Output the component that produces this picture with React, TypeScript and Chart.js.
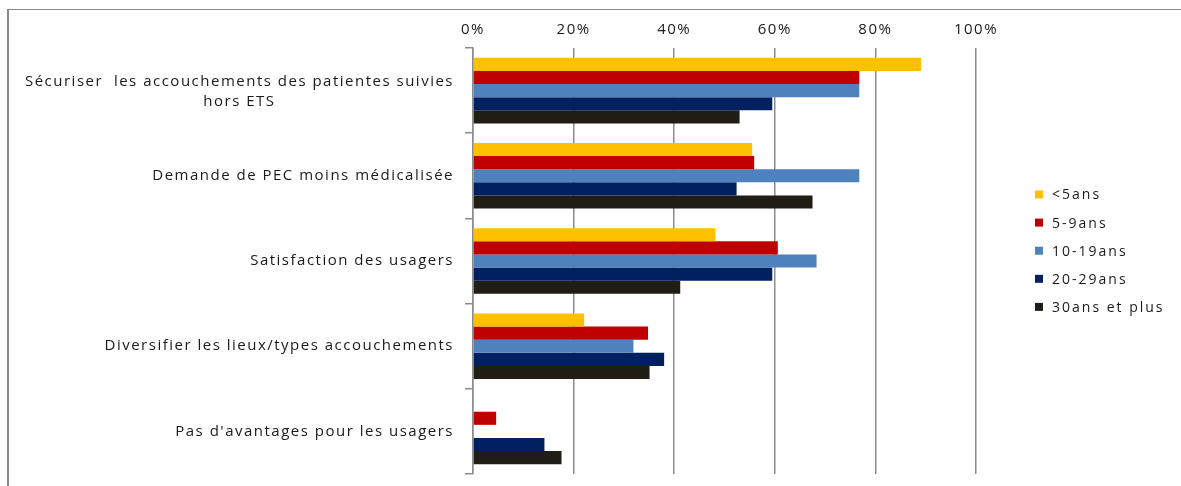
import React, { useEffect, useRef } from 'react';
import { Chart, registerables } from 'chart.js';

Chart.register(...registerables);

// ---------- data ----------
const categories: string[][] = [
  ['Sécuriser  les accouchements des patientes suivies', 'hors ETS'],
  ['Demande de PEC moins médicalisée'],
  ['Satisfaction des usagers'],
  ['Diversifier les lieux/types accouchements'],
  ["Pas d'avantages pour les usagers"],
];
const seriesNames = ['<5ans', '5-9ans', '10-19ans', '20-29ans', '30ans et plus'];
const under5 = [89.1, 55.5, 48.2, 22.1, 0];
const age5to9 = [76.8, 55.9, 60.6, 34.8, 4.6];
const age10to19 = [76.8, 76.8, 68.3, 31.9, 0];
const age20to29 = [59.5, 52.4, 59.5, 38.0, 14.2];
const age30plus = [53.0, 67.5, 41.2, 35.1, 17.6];
const xTickValues = [0, 20, 40, 60, 80, 100];
const seriesColors = ['#FFC000', '#C00000', '#4F81BD', '#002060', '#1F1D14'];

// ---------- style ----------
const FONT_FAMILY = '"Open Sans", sans-serif';
const FONT_SIZE = 15;
const LETTER_SPACING = '1.5px';
const TEXT_COLOR = '#1a1a1a';
const CANVAS_W = 1172;
const CANVAS_H = 476;

const spacingPlugin = {
  id: 'spacing',
  beforeDraw(chart: any) {
    (chart.ctx as any).letterSpacing = LETTER_SPACING;
  },
};

const yLabelPlugin = {
  id: 'yLabels',
  afterDraw(chart: any) {
    const ctx = chart.ctx as CanvasRenderingContext2D;
    const ys = chart.scales.y;
    const right = ys.right - 19;
    const lh = 20;
    ctx.save();
    (ctx as any).letterSpacing = LETTER_SPACING;
    ctx.font = `${FONT_SIZE}px ${FONT_FAMILY}`;
    ctx.fillStyle = TEXT_COLOR;
    ctx.textBaseline = 'middle';
    ctx.textAlign = 'center';
    categories.forEach((lines, i) => {
      const cy = ys.getPixelForValue(i);
      const widths = lines.map((l) => ctx.measureText(l).width);
      const maxW = Math.max(...widths);
      const cx = right - maxW / 2;
      const off = lines.length > 1 ? 1 : 0;
      lines.forEach((ln, j) => {
        ctx.fillText(ln, cx, cy + (j - (lines.length - 1) / 2) * lh + off);
      });
    });
    ctx.restore();
  },
};

const legendPlugin = {
  id: 'customLegend',
  afterDraw(chart: any) {
    const ctx = chart.ctx as CanvasRenderingContext2D;
    const x0 = 1026;
    const y0 = 184.5;
    const step = 28.1;
    ctx.save();
    (ctx as any).letterSpacing = '2px';
    ctx.font = `14px ${FONT_FAMILY}`;
    ctx.textBaseline = 'middle';
    ctx.textAlign = 'left';
    chart.data.datasets.forEach((ds: any, i: number) => {
      const y = y0 + i * step;
      ctx.fillStyle = ds.backgroundColor;
      ctx.fillRect(x0, y - 4, 8, 8);
      ctx.fillStyle = TEXT_COLOR;
      ctx.fillText(ds.label, x0 + 17, y + 1);
    });
    ctx.restore();
  },
};

export default function App() {
  const ref = useRef<HTMLCanvasElement | null>(null);

  useEffect(() => {
    document.body.style.overflow = 'hidden';
    if (!ref.current) return;
    const seriesValues = [under5, age5to9, age10to19, age20to29, age30plus];
    const chart = new Chart(ref.current, {
      type: 'bar',
      data: {
        labels: categories.map((c) => c.join(' ')),
        datasets: seriesNames.map((name, i) => ({
          label: name,
          data: seriesValues[i],
          backgroundColor: seriesColors[i],
          borderWidth: 0,
          categoryPercentage: 0.77,
          barPercentage: 1.0,
        })),
      },
      options: {
        indexAxis: 'y',
        animation: false,
        responsive: false,
        maintainAspectRatio: false,
        devicePixelRatio: 1,
        layout: { padding: { top: 0, right: 205, bottom: 12, left: 0 } },
        plugins: {
          legend: { display: false },
          tooltip: { enabled: false },
          title: { display: false },
        },
        scales: {
          x: {
            position: 'top',
            min: 0,
            max: 100,
            afterBuildTicks: (scale: any) => {
              scale.ticks = xTickValues.map((v) => ({ value: v }));
            },
            afterFit: (scale: any) => {
              scale.height = 38;
            },
            ticks: {
              callback: (v: any) => `${v}%`,
              color: TEXT_COLOR,
              font: { family: FONT_FAMILY, size: FONT_SIZE },
              padding: 9,
              maxRotation: 0,
            },
            grid: {
              color: '#8c8c8c',
              lineWidth: 1.5,
              drawTicks: false,
            },
            border: { display: false },
          },
          y: {
            offset: true,
            afterFit: (scale: any) => {
              scale.width = 464;
            },
            ticks: { display: false },
            grid: {
              offset: true,
              drawOnChartArea: false,
              drawTicks: true,
              tickLength: 8,
              color: '#8c8c8c',
              lineWidth: 1.5,
            },
            border: { display: true, color: '#8c8c8c', width: 1.5 },
          },
        },
      },
      plugins: [spacingPlugin, yLabelPlugin, legendPlugin],
    });
    return () => chart.destroy();
  }, []);

  return (
    <div
      style={{
        position: 'absolute',
        left: 7,
        top: 9,
        width: 1174,
        height: 477,
        boxSizing: 'border-box',
        borderLeft: '2px solid #8a8a8a',
        borderTop: '1px solid #8a8a8a',
        background: '#fff',
      }}
    >
      <canvas ref={ref} width={CANVAS_W} height={CANVAS_H} style={{ display: 'block', width: CANVAS_W, height: CANVAS_H }} />
    </div>
  );
}
